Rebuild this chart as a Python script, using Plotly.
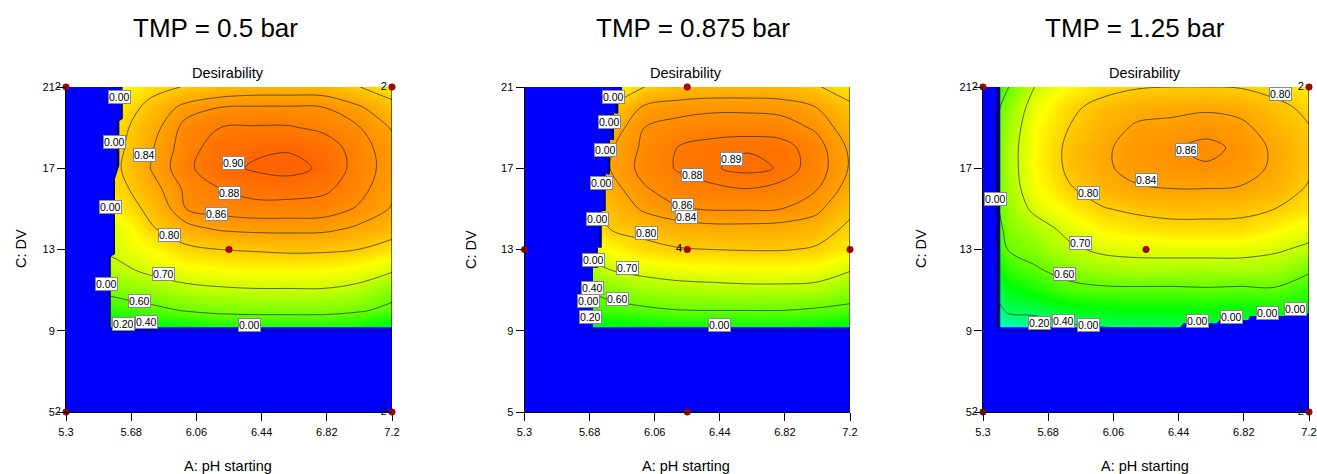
import plotly.graph_objects as go

W, H = 1317, 474
X_GRID = [5.3, 5.45, 5.6, 5.8, 6.0, 6.2, 6.4, 6.6, 6.8, 7.0, 7.2]
Y_GRID = [21, 20, 19, 18, 17, 16, 15, 14, 13, 12, 11, 10, 9]
LEVELS_05 = [0.60, 0.70, 0.80, 0.84, 0.86, 0.88, 0.90]
LEVELS_0875 = [0.60, 0.70, 0.80, 0.84, 0.86, 0.88, 0.89]
LEVELS_125 = [0.40, 0.60, 0.70, 0.80, 0.84, 0.86]
X_TICKS = [5.3, 5.68, 6.06, 6.44, 6.82, 7.2]
X_TICK_TEXT = ["5.3", "5.68", "6.06", "6.44", "6.82", "7.2"]
Y_TICKS = [5, 9, 13, 17, 21]
TITLES = ["TMP = 0.5 bar", "TMP = 0.875 bar", "TMP = 1.25 bar"]

Z_05 = [
 [.55,.71,.74,.785,.803,.82,.825,.825,.825,.802,.775],
 [.55,.74,.77,.815,.85,.86,.862,.862,.86,.845,.815],
 [.56,.755,.785,.83,.868,.88,.882,.882,.875,.862,.838],
 [.56,.76,.79,.838,.872,.89,.897,.898,.893,.87,.848],
 [.56,.765,.795,.842,.875,.895,.902,.906,.897,.872,.85],
 [.55,.755,.785,.83,.865,.88,.89,.89,.885,.868,.845],
 [.53,.735,.765,.815,.86,.868,.871,.871,.87,.858,.838],
 [.50,.69,.72,.795,.83,.843,.847,.847,.846,.835,.82],
 [.44,.69,.72,.75,.79,.80,.805,.81,.808,.80,.78],
 [.40,.65,.68,.72,.74,.75,.755,.755,.755,.74,.71],
 [.34,.60,.63,.65,.68,.69,.695,.695,.695,.68,.63],
 [.28,.52,.55,.58,.605,.62,.625,.625,.625,.61,.58],
 [.22,.39,.42,.46,.48,.50,.505,.505,.505,.49,.44],
]
Z_0875 = [
 [.50,.60,.70,.74,.80,.818,.822,.822,.82,.805,.775],
 [.52,.63,.75,.80,.845,.852,.855,.855,.853,.84,.81],
 [.53,.65,.77,.825,.86,.868,.873,.873,.87,.857,.825],
 [.55,.66,.78,.837,.865,.881,.886,.889,.888,.87,.836],
 [.55,.66,.785,.84,.868,.882,.889,.893,.889,.872,.838],
 [.53,.65,.775,.83,.858,.872,.877,.88,.875,.862,.83],
 [.50,.62,.76,.815,.845,.858,.862,.862,.86,.848,.81],
 [.47,.60,.74,.80,.815,.827,.832,.832,.83,.822,.79],
 [.43,.56,.70,.75,.785,.797,.80,.803,.803,.795,.765],
 [.40,.52,.66,.70,.72,.735,.74,.745,.745,.74,.705],
 [.35,.47,.59,.63,.66,.67,.675,.68,.68,.675,.64],
 [.30,.42,.53,.57,.585,.598,.60,.60,.60,.59,.58],
 [.25,.33,.42,.45,.47,.485,.49,.49,.49,.48,.44],
]
Z_125 = [
 [.50,.60,.70,.755,.785,.797,.80,.80,.798,.785,.765],
 [.52,.64,.73,.79,.815,.828,.832,.835,.83,.812,.79],
 [.53,.66,.745,.80,.825,.845,.848,.855,.848,.825,.802],
 [.54,.67,.75,.812,.835,.852,.858,.864,.857,.835,.81],
 [.54,.67,.75,.81,.835,.85,.855,.858,.853,.835,.808],
 [.53,.665,.74,.795,.825,.837,.84,.84,.838,.825,.795],
 [.52,.65,.715,.76,.797,.81,.815,.815,.812,.80,.775],
 [.50,.63,.665,.72,.76,.775,.785,.785,.785,.76,.73],
 [.47,.605,.63,.685,.715,.72,.725,.725,.725,.71,.685],
 [.42,.55,.59,.63,.655,.67,.665,.665,.665,.66,.612],
 [.36,.48,.52,.575,.585,.585,.585,.59,.585,.59,.55],
 [.30,.42,.43,.47,.49,.50,.50,.505,.50,.51,.50],
 [.25,.30,.31,.36,.38,.39,.40,.40,.40,.41,.42],
]

# Non-feasible (blue) area and darker strips, in axis units
BLUE_05_X = [5.3, 5.63, 5.63, 5.61, 5.61, 5.585, 5.585, 5.56, 5.56, 7.2, 7.2, 5.3]
BLUE_05_Y = [21, 21, 19.44, 19.33, 17.15, 16.5, 12.78, 12.65, 9.17, 9.17, 5, 5]
DARK_05_X = [5.62, 5.63, 5.63, 5.61, 5.61, 5.585, 5.585, 5.56, 5.56, 5.55, 5.55, 5.575, 5.575, 5.595, 5.595, 5.62]
DARK_05_Y = [20.7, 20.7, 19.44, 19.33, 17.15, 16.5, 12.78, 12.65, 9.17, 9.17, 12.7, 12.7, 16.5, 17.0, 19.3, 19.4]

BLUE_0875_X = [5.3, 5.87, 5.87, 5.847, 5.847, 5.822, 5.822, 5.799, 5.799, 5.773, 5.773, 5.75, 5.75, 5.727, 5.727, 5.70, 5.70, 7.2, 7.2, 5.3]
BLUE_0875_Y = [21, 21, 20.7, 20.7, 19.7, 19.7, 18.4, 18.4, 16.7, 16.7, 14.9, 14.9, 13.1, 13.1, 12.1, 12.1, 9.17, 9.17, 5, 5]
DARK_0875_X = [5.847, 5.83, 5.83, 5.805, 5.805, 5.785, 5.785, 5.76, 5.76, 5.735, 5.735, 5.715, 5.715, 5.70, 5.70, 5.727, 5.727, 5.75, 5.75, 5.773, 5.773, 5.799, 5.799, 5.822, 5.822, 5.847]
DARK_0875_Y = [20.4, 20.4, 19.7, 19.7, 18.4, 18.4, 16.7, 16.7, 14.9, 14.9, 13.1, 13.1, 12.1, 12.1, 12.1, 12.1, 13.1, 13.1, 14.9, 14.9, 16.7, 16.7, 18.4, 18.4, 19.7, 19.7]

BLUE_125_X = [5.3, 5.40, 5.40, 6.449, 6.468, 6.662, 6.68, 6.846, 6.856, 7.06, 7.07, 7.2, 7.2, 5.3]
BLUE_125_Y = [21, 21, 9.17, 9.17, 9.37, 9.37, 9.53, 9.53, 9.73, 9.73, 9.86, 9.86, 5, 5]
DARK_125_X = [5.376, 5.40, 5.40, 5.376]
DARK_125_Y = [21, 21, 9.17, 9.17]

RULE_05_X = [5.55, 7.2]
RULE_05_Y = [9, 9]
RULE_0875_X = [5.68, 7.2]
RULE_0875_Y = [9, 9]
RULE_125_X = [5.37, 6.46, None, 6.47, 6.65, None, 6.68, 6.84]
RULE_125_Y = [9, 9, None, 9.17, 9.17, None, 9.37, 9.37]

PTS_05_X = [5.3, 7.2, 6.25, 5.3, 7.2]
PTS_05_Y = [21, 21, 13, 5, 5]
PTS_05_T = ["2", "2", "", "2", "2"]
PTS_0875_X = [6.25, 5.3, 6.25, 7.2, 6.25]
PTS_0875_Y = [21, 13, 13, 13, 5]
PTS_0875_T = ["", "", "4", "", ""]
PTS_125_X = [5.3, 7.2, 6.25, 5.3, 7.2]
PTS_125_Y = [21, 21, 13, 5, 5]
PTS_125_T = ["2", "2", "", "2", "2"]

LBL_05_X = [5.61, 5.585, 5.756, 6.274, 6.25, 6.177, 5.905, 5.56, 5.87, 5.537, 5.727, 5.634, 5.771, 6.367]
LBL_05_Y = [20.49, 18.28, 17.67, 17.28, 15.79, 14.76, 13.69, 15.10, 11.81, 11.29, 10.48, 9.35, 9.44, 9.30]
LBL_05_T = ["0.00", "0.00", "0.84", "0.90", "0.88", "0.86", "0.80", "0.00", "0.70", "0.00", "0.60", "0.20", "0.40", "0.00"]
LBL_0875_X = [5.822, 5.797, 5.773, 5.75, 5.725, 5.702, 5.696, 5.674, 5.688, 5.90, 5.841, 6.012, 6.223, 6.247, 6.278, 6.51, 6.437]
LBL_0875_Y = [20.49, 19.28, 17.89, 16.28, 14.48, 12.48, 11.09, 10.48, 9.70, 12.09, 10.58, 13.83, 15.19, 14.60, 16.69, 17.48, 9.30]
LBL_0875_T = ["0.00", "0.00", "0.00", "0.00", "0.00", "0.00", "0.40", "0.00", "0.20", "0.70", "0.60", "0.80", "0.86", "0.84", "0.88", "0.89", "0.00"]
LBL_125_X = [5.372, 7.032, 6.487, 6.25, 5.917, 5.868, 5.775, 5.63, 5.771, 5.915, 6.553, 6.747, 6.957, 7.124]
LBL_125_Y = [15.48, 20.66, 17.89, 16.40, 15.79, 13.32, 11.78, 9.37, 9.50, 9.29, 9.50, 9.70, 9.89, 10.09]
LBL_125_T = ["0.00", "0.80", "0.86", "0.84", "0.80", "0.70", "0.60", "0.20", "0.40", "0.00", "0.00", "0.00", "0.00", "0.00"]

FONT = "Liberation Sans, Arial, sans-serif"
SCALE = [[0, "#0000ff"], [0.25, "#00ffff"], [0.5, "#00ff00"], [0.75, "#ffff00"], [1, "#ff0000"]]
NAVY = "#00007a"

panels = [
    dict(z=Z_05, levels=LEVELS_05, bx=BLUE_05_X, by=BLUE_05_Y, dx=DARK_05_X, dy=DARK_05_Y, rx=RULE_05_X, ry=RULE_05_Y,
         px=PTS_05_X, py=PTS_05_Y, pt=PTS_05_T, lx=LBL_05_X, ly=LBL_05_Y, lt=LBL_05_T,
         left=66, right=392, tc=215, yt=21, xt=228),
    dict(z=Z_0875, levels=LEVELS_0875, bx=BLUE_0875_X, by=BLUE_0875_Y, dx=DARK_0875_X, dy=DARK_0875_Y, rx=RULE_0875_X, ry=RULE_0875_Y,
         px=PTS_0875_X, py=PTS_0875_Y, pt=PTS_0875_T, lx=LBL_0875_X, ly=LBL_0875_Y, lt=LBL_0875_T,
         left=524.5, right=850, tc=693, yt=471, xt=686),
    dict(z=Z_125, levels=LEVELS_125, bx=BLUE_125_X, by=BLUE_125_Y, dx=DARK_125_X, dy=DARK_125_Y, rx=RULE_125_X, ry=RULE_125_Y,
         px=PTS_125_X, py=PTS_125_Y, pt=PTS_125_T, lx=LBL_125_X, ly=LBL_125_Y, lt=LBL_125_T,
         left=983, right=1309, tc=1135, yt=921, xt=1145),
]
TOP, BOTTOM = 87, 412

fig = go.Figure()
layout = dict(width=W, height=H, autosize=False, margin=dict(l=0, r=0, t=0, b=0, autoexpand=False),
              paper_bgcolor="white", plot_bgcolor="white", showlegend=False,
              font=dict(family=FONT, color="black", size=11))
annotations, shapes = [], []
ys_up = Y_GRID[::-1]

def paper(text, x, y, size, angle=0):
    annotations.append(dict(text=text, xref="paper", yref="paper", x=x / W, y=1 - y / H,
                            xanchor="center", yanchor="middle", showarrow=False, textangle=angle,
                            font=dict(family=FONT, size=size, color="black")))

for i, p in enumerate(panels):
    n = "" if i == 0 else str(i + 1)
    xa, ya = "x" + n, "y" + n
    z_up = p["z"][::-1]
    fig.add_trace(go.Heatmap(x=X_GRID, y=ys_up, z=z_up, zmin=0, zmax=1, zsmooth="best",
                             colorscale=SCALE, showscale=False, hoverinfo="skip", xaxis=xa, yaxis=ya))
    for lv in p["levels"]:
        fig.add_trace(go.Contour(x=X_GRID, y=ys_up, z=z_up, autocontour=False, showscale=False,
                                 contours=dict(start=lv, end=lv, size=1, coloring="none"),
                                 line=dict(color="#2a2a1a", width=0.7, smoothing=1),
                                 hoverinfo="skip", xaxis=xa, yaxis=ya))
    fig.add_trace(go.Scatter(x=p["bx"], y=p["by"], mode="lines", fill="toself", fillcolor="#0000ff",
                             line=dict(width=0), hoverinfo="skip", xaxis=xa, yaxis=ya))
    fig.add_trace(go.Scatter(x=p["dx"], y=p["dy"], mode="lines", fill="toself", fillcolor=NAVY,
                             line=dict(width=0), hoverinfo="skip", xaxis=xa, yaxis=ya))
    fig.add_trace(go.Scatter(x=p["rx"], y=p["ry"], mode="lines", line=dict(color=NAVY, width=1),
                             hoverinfo="skip", xaxis=xa, yaxis=ya))
    fig.add_trace(go.Scatter(x=p["px"], y=p["py"], mode="markers+text", text=p["pt"],
                             textposition="middle left", textfont=dict(family=FONT, size=11, color="black"),
                             marker=dict(size=6.5, color="#b00000", line=dict(color="#600000", width=0.5)),
                             cliponaxis=False, hoverinfo="skip", xaxis=xa, yaxis=ya))
    layout["xaxis" + n] = dict(domain=[p["left"] / W, p["right"] / W], range=[5.3, 7.2], anchor=ya,
                               tickmode="array", tickvals=X_TICKS, ticktext=X_TICK_TEXT, ticks="outside",
                               ticklen=8, tickcolor="black", tickwidth=1, showline=True, linecolor="black",
                               linewidth=1, showgrid=False, zeroline=False, ticklabelstandoff=2,
                               tickfont=dict(family=FONT, size=11, color="black"))
    layout["yaxis" + n] = dict(domain=[1 - BOTTOM / H, 1 - TOP / H], range=[5, 21], anchor=xa,
                               tickmode="array", tickvals=Y_TICKS, ticks="outside",
                               ticklen=8, tickcolor="black", tickwidth=1, showline=True, linecolor="black",
                               linewidth=1, showgrid=False, zeroline=False,
                               tickfont=dict(family=FONT, size=11, color="black"))
    shapes.append(dict(type="line", xref=xa, yref=ya, x0=7.2, x1=7.2, y0=5, y1=21,
                       line=dict(color="black", width=1)))
    for lx, ly, lt in zip(p["lx"], p["ly"], p["lt"]):
        annotations.append(dict(text=lt, x=lx, y=ly, xref=xa, yref=ya, showarrow=False, bgcolor="white",
                                bordercolor="#8a8a8a", borderwidth=1, borderpad=0,
                                font=dict(family=FONT, size=10.5, color="black")))
    paper(TITLES[i], p["tc"], 28, 26)
    paper("Desirability", p["xt"], 73.5, 14.5)
    paper("A: pH starting", p["xt"], 466, 14.5)
    paper("C: DV", p["yt"], 249, 14.5, angle=-90)

layout["annotations"] = annotations
layout["shapes"] = shapes
fig.update_layout(**layout)
fig.write_html("out.html", config={"displayModeBar": False},
               post_script="document.body.style.margin='0';document.documentElement.style.overflow='hidden';")
